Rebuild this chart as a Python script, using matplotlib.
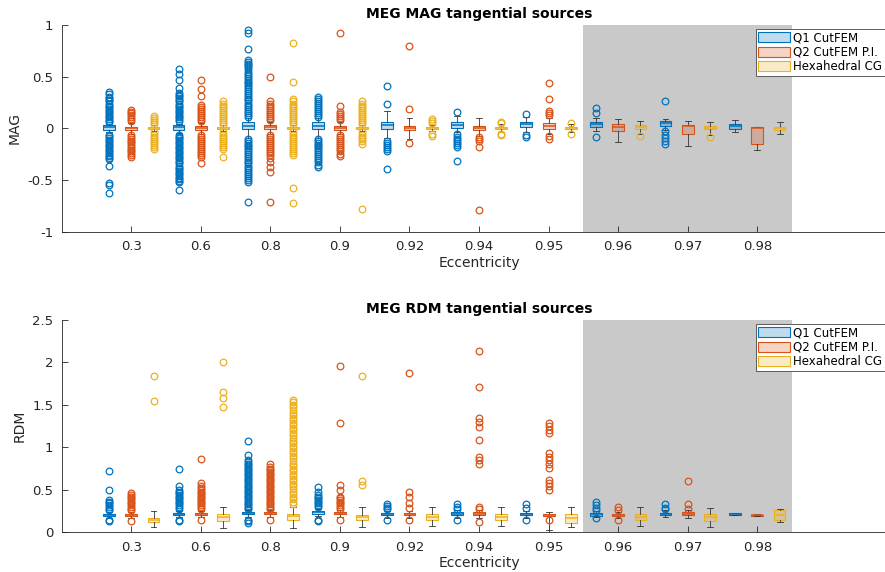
import matplotlib
matplotlib.use('Agg')
import matplotlib.pyplot as plt
from matplotlib.patches import Patch
from matplotlib.colors import to_rgba

eccentricities = ['0.3', '0.6', '0.8', '0.9', '0.92', '0.94', '0.95', '0.96', '0.97', '0.98']
methods = ['Q1 CutFEM', 'Q2 CutFEM P.I.', 'Hexahedral CG']
colors = ['#0072BD', '#D95319', '#EDB120']
shaded_from = '0.96'
shaded_to = '0.98'

# ---------------- MEG MAG ----------------
mag_cut1_med = [0.01, 0.01, 0.025, 0.02, 0.03, 0.035, 0.04, 0.04, 0.05, 0.02]
mag_cut1_q1 = [-0.015, -0.015, -0.01, -0.01, -0.005, 0.0, 0.01, 0.01, 0.02, -0.01]
mag_cut1_q3 = [0.03, 0.035, 0.06, 0.06, 0.065, 0.065, 0.065, 0.065, 0.07, 0.045]
mag_cut1_lo = [-0.04, -0.045, -0.09, -0.09, -0.09, -0.04, -0.04, -0.03, -0.02, -0.04]
mag_cut1_hi = [0.04, 0.045, 0.10, 0.10, 0.17, 0.12, 0.11, 0.10, 0.09, 0.08]
mag_cut1_out = [
    [0.35, 0.33, 0.30, 0.29, 0.27, 0.26, 0.24, 0.22, 0.21, 0.19, 0.17, 0.16, 0.14, 0.12, 0.11, 0.09, 0.07, 0.06,
     -0.06, -0.07, -0.09, -0.11, -0.12, -0.14, -0.16, -0.17, -0.19, -0.21, -0.22, -0.24, -0.26, -0.27, -0.29,
     -0.30, -0.36, -0.53, -0.55, -0.63],
    [0.57, 0.53, 0.47, 0.39, 0.34, 0.32, 0.31, 0.29, 0.27, 0.26, 0.24, 0.22, 0.21, 0.19, 0.17, 0.16, 0.14, 0.12,
     0.11, 0.09, 0.07, -0.06, -0.08, -0.09, -0.11, -0.13, -0.14, -0.16, -0.18, -0.19, -0.21, -0.23, -0.24, -0.26,
     -0.28, -0.29, -0.31, -0.33, -0.34, -0.36, -0.38, -0.39, -0.41, -0.43, -0.44, -0.46, -0.48, -0.49, -0.51,
     -0.52, -0.60],
    [0.95, 0.92, 0.77, 0.66, 0.64, 0.62, 0.61, 0.59, 0.57, 0.55, 0.53, 0.51, 0.49, 0.47, 0.45, 0.44, 0.42, 0.40,
     0.38, 0.36, 0.34, 0.32, 0.30, 0.28, 0.27, 0.25, 0.23, 0.21, 0.19, 0.17, 0.15, 0.13, 0.11,
     -0.10, -0.12, -0.14, -0.16, -0.17, -0.19, -0.21, -0.23, -0.25, -0.27, -0.29, -0.31, -0.33, -0.34, -0.36,
     -0.38, -0.40, -0.42, -0.44, -0.46, -0.48, -0.50, -0.52, -0.71],
    [0.30, 0.28, 0.26, 0.25, 0.23, 0.21, 0.19, 0.17, 0.15, 0.13, 0.11,
     -0.10, -0.12, -0.14, -0.16, -0.17, -0.19, -0.21, -0.23, -0.25, -0.27, -0.29, -0.31, -0.33, -0.35, -0.37],
    [0.41, 0.24, -0.12, -0.14, -0.16, -0.18, -0.20, -0.22, -0.39],
    [0.16, -0.05, -0.08, -0.10, -0.12, -0.14, -0.16, -0.18, -0.32],
    [0.14, -0.06, -0.08],
    [0.20, 0.15, -0.08],
    [0.26, -0.03, -0.06, -0.09, -0.12, -0.15],
    [],
]

mag_cut2_med = [0.0, 0.005, 0.015, 0.0, 0.0, 0.0, 0.02, 0.01, 0.02, 0.0]
mag_cut2_q1 = [-0.02, -0.015, -0.01, -0.02, -0.02, -0.02, -0.01, -0.03, -0.05, -0.15]
mag_cut2_q3 = [0.015, 0.02, 0.03, 0.025, 0.025, 0.02, 0.05, 0.04, 0.03, 0.01]
mag_cut2_lo = [-0.05, -0.05, -0.05, -0.05, -0.10, -0.07, -0.05, -0.13, -0.17, -0.21]
mag_cut2_hi = [0.05, 0.05, 0.06, 0.06, 0.10, 0.10, 0.10, 0.09, 0.07, 0.01]
mag_cut2_out = [
    [0.18, 0.16, 0.15, 0.13, 0.11, 0.09, 0.07, -0.06, -0.08, -0.10, -0.12, -0.13, -0.15, -0.17, -0.19, -0.21,
     -0.22, -0.24, -0.26, -0.28],
    [0.47, 0.38, 0.31, 0.23, 0.21, 0.19, 0.17, 0.15, 0.13, 0.11, 0.09, 0.07, -0.06, -0.08, -0.10, -0.12, -0.14,
     -0.16, -0.18, -0.20, -0.22, -0.24, -0.26, -0.28, -0.34],
    [0.50, 0.26, 0.24, 0.22, 0.20, 0.18, 0.16, 0.14, 0.12, 0.10, 0.08, -0.06, -0.08, -0.10, -0.12, -0.14, -0.16,
     -0.18, -0.20, -0.22, -0.24, -0.26, -0.29, -0.33, -0.37, -0.42, -0.71],
    [0.92, 0.22, 0.16, 0.14, 0.12, 0.10, 0.08, -0.06, -0.08, -0.10, -0.12, -0.14, -0.16, -0.18, -0.20, -0.22,
     -0.25, -0.27],
    [0.80, 0.19, -0.14],
    [-0.08, -0.10, -0.12, -0.18, -0.79],
    [0.44, 0.28, 0.17, 0.15, 0.13, -0.07, -0.10],
    [],
    [],
    [],
]

mag_hex_med = [0.0, 0.0, 0.0, 0.0, 0.0, 0.0, 0.0, 0.01, 0.0, 0.0]
mag_hex_q1 = [-0.01, -0.01, -0.01, -0.01, -0.01, -0.01, -0.01, -0.01, -0.01, -0.015]
mag_hex_q3 = [0.01, 0.01, 0.01, 0.01, 0.01, 0.015, 0.015, 0.03, 0.02, 0.015]
mag_hex_lo = [-0.03, -0.03, -0.03, -0.03, -0.03, -0.04, -0.04, -0.05, -0.06, -0.05]
mag_hex_hi = [0.03, 0.03, 0.03, 0.03, 0.03, 0.04, 0.04, 0.07, 0.06, 0.06]
mag_hex_out = [
    [0.12, 0.10, 0.08, 0.06, 0.04, -0.04, -0.06, -0.08, -0.10, -0.12, -0.14, -0.16, -0.18, -0.20],
    [0.26, 0.24, 0.22, 0.20, 0.18, 0.16, 0.14, 0.12, 0.10, 0.08, 0.06, 0.04, -0.04, -0.06, -0.08, -0.10, -0.12,
     -0.14, -0.16, -0.18, -0.20, -0.28],
    [0.83, 0.45, 0.28, 0.26, 0.24, 0.22, 0.20, 0.18, 0.16, 0.14, 0.12, 0.10, 0.08, 0.06, 0.04, -0.04, -0.06,
     -0.08, -0.10, -0.12, -0.14, -0.16, -0.18, -0.20, -0.22, -0.24, -0.26, -0.58, -0.72],
    [0.26, 0.24, 0.22, 0.20, 0.18, 0.16, 0.14, 0.12, 0.10, 0.08, 0.06, 0.04, -0.04, -0.06, -0.08, -0.10, -0.12,
     -0.15, -0.78],
    [0.09, 0.07, 0.05, -0.05, -0.07],
    [0.06, 0.05, -0.05, -0.06],
    [0.05, -0.05],
    [-0.07],
    [-0.08],
    [],
]

# ---------------- MEG RDM ----------------
rdm_cut1_med = [0.20, 0.21, 0.23, 0.235, 0.21, 0.22, 0.21, 0.21, 0.215, 0.215]
rdm_cut1_q1 = [0.19, 0.20, 0.22, 0.22, 0.20, 0.20, 0.20, 0.19, 0.20, 0.205]
rdm_cut1_q3 = [0.215, 0.225, 0.24, 0.25, 0.225, 0.235, 0.225, 0.225, 0.23, 0.225]
rdm_cut1_lo = [0.17, 0.18, 0.18, 0.19, 0.17, 0.17, 0.17, 0.18, 0.18, 0.20]
rdm_cut1_hi = [0.24, 0.25, 0.26, 0.28, 0.25, 0.26, 0.25, 0.25, 0.26, 0.23]
rdm_cut1_out = [
    [0.72, 0.50, 0.38, 0.36, 0.34, 0.32, 0.30, 0.28, 0.26, 0.15, 0.13],
    [0.75, 0.55, 0.50, 0.48, 0.46, 0.44, 0.42, 0.40, 0.38, 0.36, 0.34, 0.32, 0.30, 0.28, 0.15, 0.13],
    [1.07, 0.91, 0.85, 0.83, 0.81, 0.79, 0.77, 0.75, 0.73, 0.71, 0.69, 0.67, 0.65, 0.63, 0.61, 0.59, 0.57, 0.55,
     0.53, 0.51, 0.49, 0.47, 0.45, 0.43, 0.41, 0.39, 0.37, 0.35, 0.33, 0.31, 0.29, 0.27, 0.15, 0.13, 0.11],
    [0.53, 0.48, 0.44, 0.42, 0.40, 0.38, 0.36, 0.34, 0.32, 0.30, 0.15, 0.13],
    [0.33, 0.31, 0.29, 0.27, 0.15],
    [0.33, 0.30, 0.28, 0.15],
    [0.33, 0.29, 0.15],
    [0.36, 0.32, 0.29, 0.26, 0.17],
    [0.33, 0.29, 0.27],
    [],
]

rdm_cut2_med = [0.20, 0.21, 0.22, 0.22, 0.215, 0.22, 0.20, 0.20, 0.22, 0.20]
rdm_cut2_q1 = [0.19, 0.20, 0.21, 0.21, 0.20, 0.20, 0.19, 0.19, 0.20, 0.195]
rdm_cut2_q3 = [0.215, 0.225, 0.235, 0.235, 0.23, 0.235, 0.215, 0.215, 0.235, 0.205]
rdm_cut2_lo = [0.17, 0.18, 0.18, 0.18, 0.17, 0.17, 0.03, 0.17, 0.17, 0.19]
rdm_cut2_hi = [0.24, 0.25, 0.26, 0.26, 0.25, 0.26, 0.24, 0.24, 0.26, 0.21]
rdm_cut2_out = [
    [0.46, 0.44, 0.42, 0.40, 0.38, 0.36, 0.34, 0.32, 0.30, 0.28, 0.26, 0.13],
    [0.86, 0.58, 0.55, 0.52, 0.50, 0.48, 0.46, 0.44, 0.42, 0.40, 0.38, 0.36, 0.34, 0.32, 0.30, 0.28, 0.15],
    [0.80, 0.77, 0.75, 0.73, 0.71, 0.69, 0.67, 0.65, 0.63, 0.61, 0.59, 0.57, 0.55, 0.53, 0.51, 0.49, 0.47, 0.45,
     0.43, 0.41, 0.39, 0.37, 0.35, 0.33, 0.31, 0.29, 0.27, 0.14],
    [1.96, 1.29, 0.56, 0.50, 0.42, 0.40, 0.38, 0.36, 0.34, 0.32, 0.30, 0.28, 0.15],
    [1.88, 0.48, 0.42, 0.35, 0.29, 0.15],
    [2.13, 1.71, 1.35, 1.30, 1.24, 1.09, 0.89, 0.85, 0.81, 0.30, 0.27, 0.12],
    [1.29, 1.25, 1.21, 1.17, 0.93, 0.89, 0.85, 0.81, 0.76, 0.62, 0.58, 0.54, 0.50, 0.14],
    [0.30, 0.26, 0.15],
    [0.60, 0.33, 0.28],
    [],
]

rdm_hex_med = [0.14, 0.18, 0.19, 0.18, 0.18, 0.18, 0.17, 0.18, 0.18, 0.20]
rdm_hex_q1 = [0.12, 0.13, 0.15, 0.14, 0.14, 0.14, 0.11, 0.14, 0.13, 0.14]
rdm_hex_q3 = [0.17, 0.22, 0.21, 0.20, 0.22, 0.22, 0.21, 0.22, 0.22, 0.26]
rdm_hex_lo = [0.06, 0.05, 0.05, 0.06, 0.08, 0.08, 0.06, 0.08, 0.06, 0.12]
rdm_hex_hi = [0.25, 0.30, 0.30, 0.30, 0.30, 0.30, 0.30, 0.30, 0.29, 0.28]
rdm_hex_out = [
    [1.84, 1.55],
    [2.00, 1.65, 1.58, 1.48],
    [1.56, 1.53, 1.50, 1.47, 1.44, 1.41, 1.38, 1.35, 1.32, 1.29, 1.26, 1.23, 1.20, 1.17, 1.14, 1.11, 1.08, 1.05,
     1.02, 0.99, 0.96, 0.93, 0.90, 0.87, 0.84, 0.81, 0.78, 0.75, 0.72, 0.69, 0.66, 0.63, 0.60, 0.57, 0.54, 0.51,
     0.48, 0.45, 0.42, 0.39, 0.36, 0.33],
    [1.84, 0.60, 0.56],
    [], [], [], [], [], [],
]

mag_series = [
    (mag_cut1_med, mag_cut1_q1, mag_cut1_q3, mag_cut1_lo, mag_cut1_hi, mag_cut1_out),
    (mag_cut2_med, mag_cut2_q1, mag_cut2_q3, mag_cut2_lo, mag_cut2_hi, mag_cut2_out),
    (mag_hex_med, mag_hex_q1, mag_hex_q3, mag_hex_lo, mag_hex_hi, mag_hex_out),
]
rdm_series = [
    (rdm_cut1_med, rdm_cut1_q1, rdm_cut1_q3, rdm_cut1_lo, rdm_cut1_hi, rdm_cut1_out),
    (rdm_cut2_med, rdm_cut2_q1, rdm_cut2_q3, rdm_cut2_lo, rdm_cut2_hi, rdm_cut2_out),
    (rdm_hex_med, rdm_hex_q1, rdm_hex_q3, rdm_hex_lo, rdm_hex_hi, rdm_hex_out),
]

plt.rcParams['font.family'] = ['DejaVu Sans']
AXC = '#262626'

W, H = 885, 572
fig = plt.figure(figsize=(W / 100, H / 100), dpi=100)

left_px = 61.7
spacing_px = 69.56
xmin, xmax = 0.0, 12.0
ax_w = (xmax - xmin) * spacing_px

ax_top = fig.add_axes([left_px / W, 1 - 231.7 / H, ax_w / W, (231.7 - 25.0) / H])
ax_bot = fig.add_axes([left_px / W, 1 - 532.3 / H, ax_w / W, (532.3 - 320.0) / H])

offsets = [-0.32, 0.0, 0.32]
box_w = 0.17
centers = list(range(1, len(eccentricities) + 1))


def draw_panel(ax, series, title, ylabel, ylim, yticks, yticklabels, legend_top_px):
    i0 = eccentricities.index(shaded_from) + 1
    i1 = eccentricities.index(shaded_to) + 1
    ax.axvspan(i0 - 0.5, i1 + 0.5, color='#c9c9c9', zorder=0, lw=0)
    for k, (med, q1, q3, lo, hi, out) in enumerate(series):
        c = colors[k]
        stats = []
        for j in range(len(eccentricities)):
            stats.append(dict(med=med[j], q1=q1[j], q3=q3[j], whislo=lo[j], whishi=hi[j], fliers=out[j]))
        pos = [p + offsets[k] for p in centers]
        ax.bxp(stats, positions=pos, widths=box_w, patch_artist=True, capwidths=box_w * 0.5,
               boxprops=dict(facecolor=to_rgba(c, 0.25), edgecolor=c, linewidth=0.8),
               medianprops=dict(color=c, linewidth=1.1),
               whiskerprops=dict(color='#333333', linewidth=0.6),
               capprops=dict(color='#333333', linewidth=0.6),
               flierprops=dict(marker='o', markerfacecolor='none', markeredgecolor=c,
                               markersize=4.8, markeredgewidth=0.9),
               manage_ticks=False, zorder=2)
    ax.set_xlim(xmin, xmax)
    ax.set_ylim(*ylim)
    ax.set_xticks(centers)
    ax.set_xticklabels(eccentricities)
    ax.set_yticks(yticks)
    ax.set_yticklabels(yticklabels)
    for s in ['top', 'right']:
        ax.spines[s].set_visible(False)
    for s in ['left', 'bottom']:
        ax.spines[s].set_color(AXC)
        ax.spines[s].set_linewidth(0.6)
    ax.tick_params(direction='in', length=4, width=0.6, colors=AXC, labelsize=9.5, pad=6)
    ax.set_xlabel('Eccentricity', fontsize=10, color=AXC, labelpad=2)
    ax.set_ylabel(ylabel, fontsize=10, color=AXC, labelpad=4)
    ax.set_title(title, fontsize=10, fontweight='bold', pad=5, color='black')
    handles = [Patch(facecolor=to_rgba(colors[k], 0.25), edgecolor=colors[k], linewidth=0.8, label=methods[k])
               for k in range(3)]
    leg = ax.legend(handles=handles, loc='upper left',
                    bbox_to_anchor=(756 / W, 1 - legend_top_px / H), bbox_transform=fig.transFigure,
                    fontsize=8.5, frameon=True, fancybox=False, borderaxespad=0, borderpad=0.2,
                    handlelength=2.7, handleheight=0.9, handletextpad=0.25, labelspacing=0.12)
    leg.get_frame().set_edgecolor('#444444')
    leg.get_frame().set_linewidth(0.6)
    leg.get_frame().set_facecolor('white')
    leg.get_frame().set_alpha(1.0)


draw_panel(ax_top, mag_series, 'MEG MAG tangential sources', 'MAG', (-1, 1),
           [-1, -0.5, 0, 0.5, 1], ['-1', '-0.5', '0', '0.5', '1'], 29)
draw_panel(ax_bot, rdm_series, 'MEG RDM tangential sources', 'RDM', (0, 2.5),
           [0, 0.5, 1, 1.5, 2, 2.5], ['0', '0.5', '1', '1.5', '2', '2.5'], 324)

fig.savefig('out.png', dpi=100)
